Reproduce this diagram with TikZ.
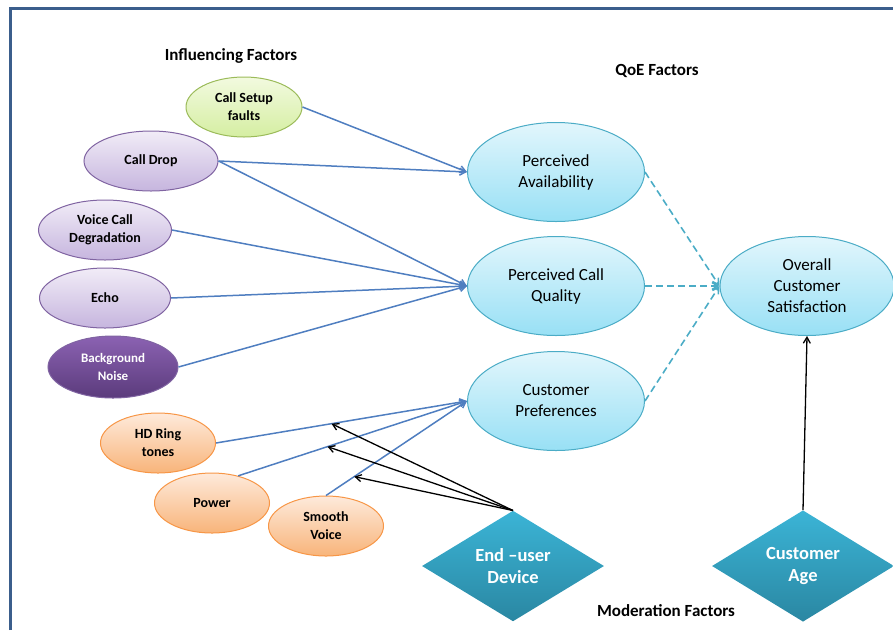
\documentclass[tikz,border=0pt]{standalone}
\usepackage{fontspec}
\setmainfont{Carlito}
\usetikzlibrary{shapes.geometric,arrows.meta}
\definecolor{frameblue}{HTML}{3B5E8C}
\definecolor{linkblue}{HTML}{4F7EC0}
\definecolor{dashteal}{HTML}{4BACC6}
\definecolor{grnB}{HTML}{9BBB59}
\definecolor{grnT}{HTML}{F2FADF}
\definecolor{grnL}{HTML}{D5EEA2}
\definecolor{purB}{HTML}{8064A2}
\definecolor{purT}{HTML}{F1ECF7}
\definecolor{purL}{HTML}{C6B5DE}
\definecolor{dpurT}{HTML}{8B62B2}
\definecolor{dpurL}{HTML}{5B3B7C}
\definecolor{orB}{HTML}{F79646}
\definecolor{orT}{HTML}{FEEADB}
\definecolor{orL}{HTML}{F8B47A}
\definecolor{bluB}{HTML}{4BACC6}
\definecolor{bluT}{HTML}{E2F6FC}
\definecolor{bluL}{HTML}{98E0F5}
\definecolor{diaT}{HTML}{3BB4D6}
\definecolor{diaL}{HTML}{2A87A2}
\tikzset{
  factor/.style={ellipse,inner sep=0pt,minimum width=#1,minimum height=60pt,
    line width=1pt,align=center,font=\fontsize{14}{18}\selectfont\bfseries},
  factor/.default=133pt,
  greenell/.style={factor=116pt,draw=grnB,top color=grnT,bottom color=grnL},
  purpell/.style={factor,draw=purB,top color=purT,bottom color=purL},
  darkell/.style={factor=130pt,minimum height=62pt,draw=purB,top color=dpurT,bottom color=dpurL,text=white,
    font=\fontsize{13}{18}\selectfont\bfseries},
  orangeell/.style={factor=115pt,draw=orB,top color=orT,bottom color=orL},
  qoe/.style={ellipse,inner sep=0pt,minimum width=177pt,minimum height=99pt,
    line width=1pt,draw=bluB,top color=bluT,bottom color=bluL,align=center,
    font=\fontsize{17}{21}\selectfont},
  moder/.style={diamond,inner sep=0pt,minimum width=182pt,minimum height=110pt,
    top color=diaT,bottom color=diaL,text=white,align=center,
    font=\fontsize{18.5}{22}\selectfont\bfseries},
  heading/.style={font=\fontsize{17}{18}\selectfont\bfseries},
  link/.style={draw=linkblue,line width=1.5pt,-{Straight Barb[length=6pt,width=7pt]}},
  dlink/.style={draw=dashteal,line width=1.6pt,dash pattern=on 7pt off 4pt,-{Straight Barb[length=6pt,width=7pt]}},
  mlink/.style={draw=black,line width=1.3pt,-{Straight Barb[length=6pt,width=7pt]}}
}
\begin{document}
\begin{tikzpicture}[x=1pt,y=-1pt]
\useasboundingbox (0,0) rectangle (893,630);
% frame
\draw[frameblue,line width=3pt] (10,630) -- (10,8) -- (893,8);

% headings
\node[heading] (hInf) at (231,56) {Influencing Factors};
\node[heading] (hQoE) at (657,71) {QoE Factors};
\node[heading] (hMod) at (666,611) {Moderation Factors};

% influencing factors
\node[greenell] (CS) at (244,107) {Call Setup\\faults};
\node[purpell,minimum width=134pt] (CD) at (151,161) {Call Drop};
\node[purpell] (VCD) at (105,230) {Voice Call\\Degradation};
\node[purpell,minimum width=131pt] (EC) at (105,298) {Echo};
\node[darkell] (BN) at (113,367) {Background\\Noise};
\node[orangeell] (HD) at (158,443) {HD Ring\\tones};
\node[orangeell] (PW) at (212,503) {Power};
\node[orangeell] (SV) at (326,526) {Smooth\\Voice};

% QoE factors
\node[qoe] (PA) at (556,172) {Perceived\\Availability};
\node[qoe] (PCQ) at (556,286) {Perceived Call\\Quality};
\node[qoe] (CP) at (556,401) {Customer\\Preferences};
\node[qoe,minimum width=174pt] (OCS) at (807,286) {Overall\\Customer\\Satisfaction};

% moderation factors
\node[moder] (DEV) at (513,566) {End –user\\Device};
\node[moder] (AGE) at (803,566) {Customer\\Age};

% influencing links
\draw[link] (CS.east) -- (PA.west);
\draw[link] (CD.east) -- (PA.west);
\draw[link] (CD.east) -- (PCQ.west);
\draw[link] (VCD.east) -- (PCQ.west);
\draw[link] (EC.east) -- (PCQ.west);
\draw[link] (BN.east) -- (PCQ.west);
\draw[link] (HD.east) -- (CP.west) coordinate[pos=0.46] (m1);
\draw[link] (PW.46) -- (CP.west) coordinate[pos=0.39] (m2);
\draw[link] (SV.north) -- (CP.west) coordinate[pos=0.2] (m3);

% QoE to overall
\draw[dlink] (PA.east) -- (OCS.west);
\draw[dlink] (PCQ.east) -- (OCS.west);
\draw[dlink] (CP.east) -- (OCS.west);

% moderation links
\draw[mlink] (DEV.north) -- (m1);
\draw[mlink] (DEV.north) -- (m2);
\draw[mlink] (DEV.north) -- (m3);
\draw[mlink] (AGE.north) -- (OCS.south);
\end{tikzpicture}
\end{document}
